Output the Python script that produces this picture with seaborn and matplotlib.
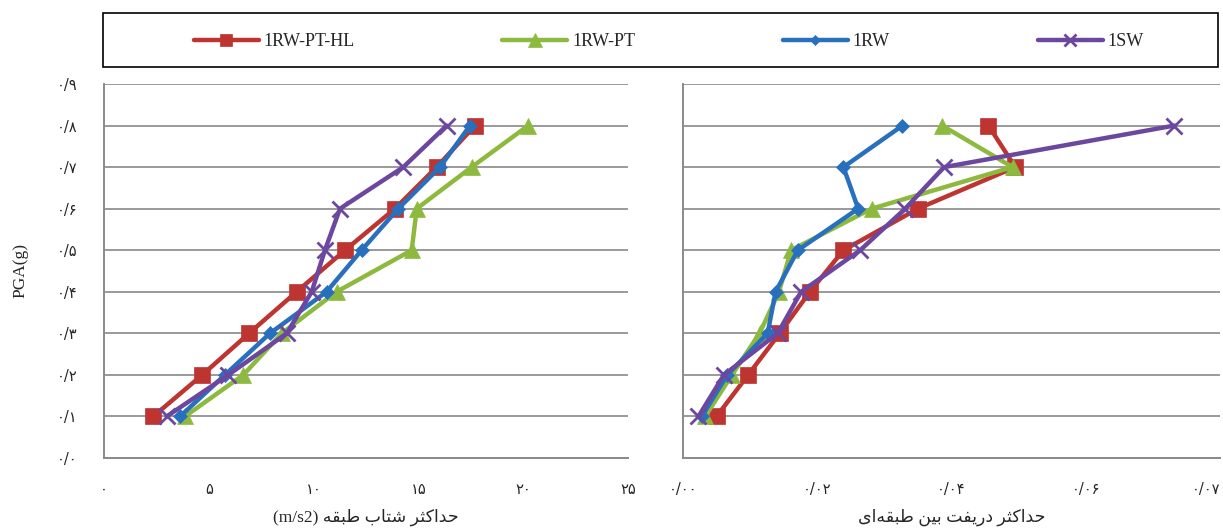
import numpy as np
import pandas as pd
import matplotlib
matplotlib.use("Agg")
import matplotlib.pyplot as plt
import seaborn as sns

# ---------------- data ----------------
pga = [0.1, 0.2, 0.3, 0.4, 0.5, 0.6, 0.7, 0.8]
series_names = ["1RW-PT-HL", "1RW-PT", "1RW", "1SW"]

acc_rw_pt_hl = [2.35, 4.69, 6.92, 9.19, 11.5, 13.88, 15.87, 17.7]
acc_rw_pt = [3.86, 6.65, 8.48, 11.1, 14.68, 14.92, 17.54, 20.24]
acc_rw = [3.63, 5.77, 7.92, 10.62, 12.29, 14.04, 16.03, 17.46]
acc_sw = [2.99, 5.93, 8.72, 9.91, 10.54, 11.26, 14.28, 16.35]

drift_rw_pt_hl = [0.0050, 0.0097, 0.0144, 0.0189, 0.0239, 0.0350, 0.0495, 0.0455]
drift_rw_pt = [0.0033, 0.0073, 0.0114, 0.0143, 0.0161, 0.0281, 0.0491, 0.0386]
drift_rw = [0.0028, 0.0066, 0.0126, 0.0138, 0.0171, 0.0261, 0.0239, 0.0327]
drift_sw = [0.0023, 0.0061, 0.0141, 0.0176, 0.0264, 0.0331, 0.0389, 0.0732]

y_ticks = [0.0, 0.1, 0.2, 0.3, 0.4, 0.5, 0.6, 0.7, 0.8, 0.9]
y_ticklabels = ["۰/۰", "۰/۱", "۰/۲", "۰/۳", "۰/۴", "۰/۵", "۰/۶", "۰/۷", "۰/۸", "۰/۹"]
acc_ticks = [0, 5, 10, 15, 20, 25]
acc_ticklabels = ["۰", "۵", "۱۰", "۱۵", "۲۰", "۲۵"]
drift_ticks = [0.0, 0.02, 0.04, 0.06, 0.08]
drift_ticklabels = ["۰/۰۰", "۰/۰۲", "۰/۰۴", "۰/۰۶", "۰/۰۷"]

acc_label_fa = "حداکثر شتاب طبقه"
acc_label_unit = "(m/s2)"
drift_label_fa = "حداکثر دریفت بین طبقه\u200cای"
y_label = "PGA(g)"

# ---------------- minimal Arabic-script shaping ----------------
FORMS = {  # iso, fin, ini, med (None -> right-joining only)
    "\u0627": ("\uFE8D", "\uFE8E", None, None),
    "\u0628": ("\uFE8F", "\uFE90", "\uFE91", "\uFE92"),
    "\u062A": ("\uFE95", "\uFE96", "\uFE97", "\uFE98"),
    "\u062B": ("\uFE99", "\uFE9A", "\uFE9B", "\uFE9C"),
    "\u062D": ("\uFEA1", "\uFEA2", "\uFEA3", "\uFEA4"),
    "\u062F": ("\uFEA9", "\uFEAA", None, None),
    "\u0631": ("\uFEAD", "\uFEAE", None, None),
    "\u0634": ("\uFEB5", "\uFEB6", "\uFEB7", "\uFEB8"),
    "\u0637": ("\uFEC1", "\uFEC2", "\uFEC3", "\uFEC4"),
    "\u0641": ("\uFED1", "\uFED2", "\uFED3", "\uFED4"),
    "\u0642": ("\uFED5", "\uFED6", "\uFED7", "\uFED8"),
    "\u0646": ("\uFEE5", "\uFEE6", "\uFEE7", "\uFEE8"),
    "\u0647": ("\uFEE9", "\uFEEA", "\uFEEB", "\uFEEC"),
    "\u06A9": ("\uFB8E", "\uFB8F", "\uFB90", "\uFB91"),
    "\u06CC": ("\uFBFC", "\uFBFD", "\uFBFE", "\uFBFF"),
}


def shape_rtl(text):
    out = []
    n = len(text)
    for i, ch in enumerate(text):
        if ch not in FORMS:
            if ch != "\u200c":
                out.append(ch)
            continue
        prev = text[i - 1] if i > 0 else ""
        nxt = text[i + 1] if i < n - 1 else ""
        f = FORMS[ch]
        join_prev = prev in FORMS and FORMS[prev][2] is not None
        join_next = nxt in FORMS and f[2] is not None
        if join_prev and join_next:
            out.append(f[3])
        elif join_prev:
            out.append(f[1])
        elif join_next:
            out.append(f[2])
        else:
            out.append(f[0])
    return "".join(out)[::-1]


# ---------------- style ----------------
sns.set_style("white")
plt.rcParams["font.family"] = ["Liberation Serif", "DejaVu Sans"]

colors = {"1RW-PT-HL": "#BE3430", "1RW-PT": "#8DBA3E", "1RW": "#2870BE", "1SW": "#6C47A0"}
markers = {"1RW-PT-HL": "s", "1RW-PT": "^", "1RW": "D", "1SW": "x"}
msizes = {"1RW-PT-HL": 11, "1RW-PT": 12, "1RW": 7, "1SW": 11}

acc_df = pd.DataFrame({
    "pga": pga * 4,
    "value": acc_rw_pt_hl + acc_rw_pt + acc_rw + acc_sw,
    "series": sum([[s] * len(pga) for s in series_names], []),
})
drift_df = pd.DataFrame({
    "pga": pga * 4,
    "value": drift_rw_pt_hl + drift_rw_pt + drift_rw + drift_sw,
    "series": sum([[s] * len(pga) for s in series_names], []),
})

W, H = 1223, 532
fig = plt.figure(figsize=(W / 100, H / 100), dpi=100)
ax1 = fig.add_axes([104 / W, 1 - 458 / H, (628 - 104) / W, (458 - 84) / H])
ax2 = fig.add_axes([683 / W, 1 - 458 / H, (1220 - 683) / W, (458 - 84) / H])

for ax, df in ((ax1, acc_df), (ax2, drift_df)):
    for s in series_names:
        sub = df[df["series"] == s]
        sns.lineplot(data=sub, x="value", y="pga", sort=False, ax=ax,
                     color=colors[s], linewidth=3.2, marker=markers[s],
                     markersize=msizes[s], markeredgewidth=2 if s == "1SW" else 0.5,
                     markeredgecolor=colors[s], legend=False, zorder=3)
    ax.set_ylim(0, 0.9)
    ax.set_yticks(y_ticks)
    ax.grid(axis="y", color="#9a9a9a", linewidth=1.4)
    ax.set_axisbelow(True)
    for sp in ("top", "right"):
        ax.spines[sp].set_visible(False)
    for sp in ("left", "bottom"):
        ax.spines[sp].set_color("#8a8a8a")
        ax.spines[sp].set_linewidth(1.4)
    ax.tick_params(axis="both", direction="out", length=5, width=1.2, color="#8a8a8a",
                   labelsize=11)
    ax.tick_params(axis="x", pad=12)
    ax.tick_params(axis="y", pad=14)
    ax.set_xlabel("")
    ax.set_ylabel("")

ax1.set_xlim(0, 25)
ax1.set_xticks(acc_ticks)
ax1.set_xticklabels(acc_ticklabels, family=["DejaVu Sans"], fontsize=10.5)
ax1.set_yticklabels(y_ticklabels, family=["DejaVu Sans"], fontsize=10.5)
ax1.set_xlabel(acc_label_unit + " " + shape_rtl(acc_label_fa), fontsize=12.5,
               family=["Liberation Serif", "DejaVu Sans"])
ax1.xaxis.set_label_coords(0.5, (458 - 509) / 374)
ax1.set_ylabel(y_label, fontsize=12.5)
ax1.yaxis.set_label_coords((28 - 104) / 524, 0.5)

ax2.set_xlim(0, 0.08)
ax2.set_xticks(drift_ticks)
ax2.set_xticklabels(drift_ticklabels, family=["DejaVu Sans"], fontsize=10.5)
ax2.get_xticklabels()[-1].set_horizontalalignment("right")
ax2.set_yticklabels([])
ax2.set_xlabel(shape_rtl(drift_label_fa), fontsize=12.5,
               family=["Liberation Serif", "DejaVu Sans"])
ax2.xaxis.set_label_coords(0.5, (458 - 509) / 374)

handles = ax1.get_lines()[:4]
leg = fig.legend(handles, series_names, loc="center",
                 bbox_to_anchor=(111 / W, 1 - 69 / H, (1218 - 103) / W, (67 - 13) / H),
                 ncol=4, frameon=False, fontsize=13, handlelength=3.6, handletextpad=0.25,
                 columnspacing=8.2, borderaxespad=0, markerscale=0.8)
box = plt.Rectangle((103 / W, 1 - 67 / H), (1218 - 103) / W, (67 - 13) / H,
                    transform=fig.transFigure, fill=False, edgecolor="black", linewidth=1.2)
fig.add_artist(box)

fig.savefig("out.png", dpi=100)
